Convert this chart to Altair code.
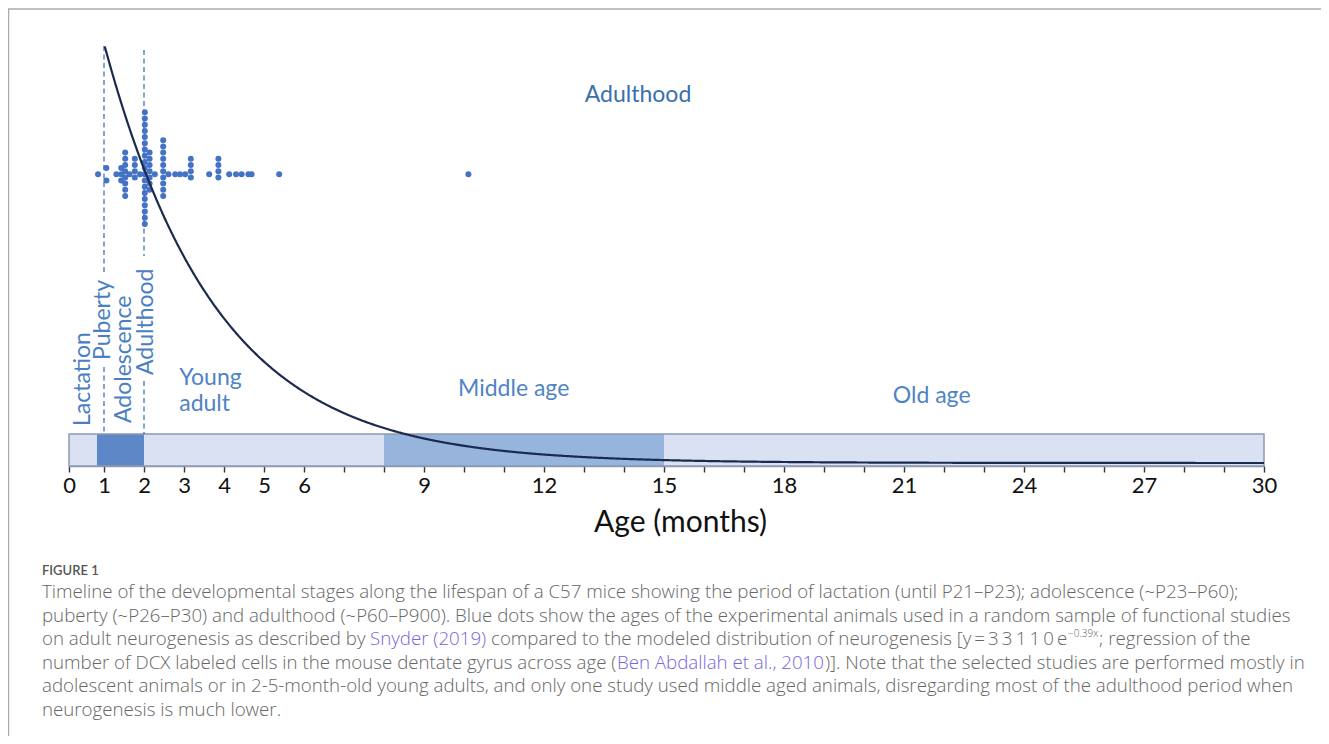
import altair as alt
import pandas as pd

# ---------------- data ----------------
tick_months = list(range(0, 31))
labelled_months = [0, 1, 2, 3, 4, 5, 6, 9, 12, 15, 18, 21, 24, 27, 30]

# timeline bar (months)
seg_start = [0.8, 8]
seg_end = [2, 15]
seg_color = ["#5e87c7", "#97b4dd"]
bar_start, bar_end = 0, 30

# neurogenesis model curve, as drawn
model_A = 33110
model_k = 0.355
curve_start, curve_end = 1.02, 30

# stage boundaries (dashed lines, months)
boundary_month = [1, 1, 2, 2]

# studies: dot columns -> age (months), lowest and highest stack level
col_age = [0.83, 1.06, 1.06, 1.31, 1.43, 1.53, 1.64, 1.77, 1.90, 2.02, 2.14, 2.27,
           2.48, 2.61, 2.78, 2.90, 3.03, 3.17, 3.63, 3.86, 4.13, 4.30, 4.44, 4.61,
           4.69, 5.38, 10.11]
col_lo = [0, 1, -1, 0, -1, -3.5, 0, -0.5, 0, -8, -2.5, 0,
          -3.5, 0, 0, 0, 0, -0.5, 0, -0.5, 0, 0, 0, 0,
          0, 0, 0]
col_hi = [0, 1, -1, 0, 1, 3.5, 0, 2.5, 0, 10, 3.5, 0,
          5.5, 0, 0, 0, 0, 2.5, 0, 2.5, 0, 0, 0, 0,
          0, 0, 0]

# stage labels
h_text = ["Adulthood", "Young", "adult", "Middle age", "Old age"]
h_month = [13.02, 2.88, 2.88, 9.85, 20.72]
v_text = ["Lactation", "Puberty", "Adolescence", "Adulthood"]
v_month = [0.6, 1.15, 1.675, 2.225]

# caption
fig_label = "FIGURE 1"
cap_lines = [
    "Timeline of the developmental stages along the lifespan of a C57 mice showing the period of lactation (until P21\u2013P23); adolescence (~P23\u2013P60);",
    "puberty (~P26\u2013P30) and adulthood (~P60\u2013P900). Blue dots show the ages of the experimental animals used in a random sample of functional studies",
    None,
    None,
    "adolescent animals or in 2-5-month-old young adults, and only one study used middle aged animals, disregarding most of the adulthood period when",
    "neurogenesis is much lower.",
]
line3_parts = ["on adult neurogenesis as described by", "Snyder (2019)",
               "compared to the modeled distribution of neurogenesis [y\u2009=\u20093\u20093\u20091\u20091\u20090\u2009e",
               "\u22120.39x", "; regression of the"]
line4_parts = ["number of DCX labeled cells in the mouse dentate gyrus across age (",
               "Ben Abdallah et al., 2010",
               ")]. Note that the selected studies are performed mostly in"]

# ---------------- layout (pixels) ----------------
W, H = 1195, 421
PAD = {"left": 61, "top": 37, "right": 57, "bottom": 270}
OX, OY = 69, 45  # page position of plot origin
BAR_TOP, BAR_BOT = 434 - OY, 466 - OY
DOT_CENTER, DOT_STEP = 174.3 - OY, 6.2

FONT = "Lato"
CAP_FONT = "Open Sans"
CAP_SIZE = 18.7
BLUE_TXT = "#4f84c4"
GRAY = "#666666"
LINK = "#7466dc"

xscale = alt.Scale(domain=[0, 1, 30], range=[0, 35, W], nice=False, zero=False)

label_expr = "indexof(%s, datum.value) >= 0 ? datum.label : ''" % str(labelled_months)

bg = alt.Chart(pd.DataFrame({"s": [bar_start], "e": [bar_end]})).mark_rect(
    fill="#dae1f2").encode(
    x=alt.X("s:Q", scale=xscale, axis=alt.Axis(
        values=tick_months, labelExpr=label_expr, title="Age (months)",
        grid=False, domain=True, domainColor="#8d98b3", domainWidth=1.5,
        ticks=True, tickColor="#333333", tickSize=6, tickWidth=1.4,
        labelFont=FONT, labelFontSize=22, labelColor="#111111", labelPadding=3,
        labelFlush=False, labelOverlap=False, labelAngle=0,
        titleFont=FONT, titleFontSize=30, titleFontWeight="normal", titleColor="#111111",
        titleX=611, titleY=65, titleAlign="center", titleBaseline="alphabetic")),
    x2="e:Q", y=alt.value(BAR_TOP), y2=alt.value(BAR_BOT))

# frame
frame_h = alt.Chart(alt.Data(values=[{}])).mark_rule(color="#ababab", strokeWidth=1.5).encode(
    x=alt.value(8 - OX), x2=alt.value(1329 - OX), y=alt.value(9 - OY))
frame_v = alt.Chart(alt.Data(values=[{}])).mark_rule(color="#ababab", strokeWidth=1.5).encode(
    x=alt.value(8.5 - OX), y=alt.value(9 - OY), y2=alt.value(744 - OY))

segs = alt.Chart(pd.DataFrame({"s": seg_start, "e": seg_end, "c": seg_color})).mark_rect().encode(
    x=alt.X("s:Q", scale=xscale, axis=None), x2="e:Q",
    y=alt.value(BAR_TOP), y2=alt.value(BAR_BOT),
    fill=alt.Fill("c:N", scale=None))

outline = alt.Chart(pd.DataFrame({"s": [bar_start], "e": [bar_end]})).mark_rect(
    fillOpacity=0, stroke="#8d98b3", strokeWidth=1.5).encode(
    x=alt.X("s:Q", scale=xscale, axis=None), x2="e:Q",
    y=alt.value(BAR_TOP), y2=alt.value(BAR_BOT))

dash_df = pd.DataFrame({"m": boundary_month,
                        "y1": [46 - OY, 367 - OY, 50 - OY, 381 - OY],
                        "y2": [272 - OY, BAR_TOP, 256 - OY, BAR_TOP]})
dashes = alt.Chart(dash_df).mark_rule(color="#4472c4", strokeWidth=1.3, strokeDash=[5, 3.5]).encode(
    x=alt.X("m:Q", scale=xscale, axis=None),
    y=alt.Y("y1:Q", scale=None), y2="y2:Q")

rows = []
for a, lo, hi in zip(col_age, col_lo, col_hi):
    lv = lo
    while lv <= hi + 1e-9:
        rows.append({"age": a, "level": lv})
        lv += 1
dots = alt.Chart(pd.DataFrame(rows)).transform_calculate(
    py=f"{DOT_CENTER} - datum.level * {DOT_STEP}").mark_circle(
    color="#4472c4", opacity=1, size=36).encode(
    x=alt.X("age:Q", scale=xscale, axis=None),
    y=alt.Y("py:Q", scale=None))

curve = alt.Chart(alt.sequence(curve_start, curve_end + 0.001, 0.02, as_="age")).transform_calculate(
    n=f"{model_A} * exp(-{model_k} * datum.age)").mark_line(
    color="#1b2a4e", strokeWidth=2.2).encode(
    x=alt.X("age:Q", scale=xscale, axis=None),
    y=alt.Y("n:Q", scale=alt.Scale(domain=[-166, 23133], nice=False, zero=False), axis=None))

h_df = pd.DataFrame({"t": h_text, "m": h_month,
                     "py": [101.7 - OY, 385 - OY, 410.7 - OY, 396 - OY, 403 - OY],
                     "c": ["#3b70ae", BLUE_TXT, BLUE_TXT, BLUE_TXT, BLUE_TXT]})
h_labels = alt.Chart(h_df).mark_text(font=FONT, fontSize=23, align="left", baseline="alphabetic").encode(
    x=alt.X("m:Q", scale=xscale, axis=None), y=alt.Y("py:Q", scale=None),
    text="t:N", color=alt.Color("c:N", scale=None))

v_df = pd.DataFrame({"t": v_text, "m": v_month,
                     "py": [426 - OY, 360 - OY, 423 - OY, 375 - OY]})
v_labels = alt.Chart(v_df).mark_text(font=FONT, fontSize=23, align="left", baseline="alphabetic",
                                     angle=270, color="#4a80c2").encode(
    x=alt.X("m:Q", scale=xscale, axis=None), y=alt.Y("py:Q", scale=None), text="t:N")

# caption segments: text, page x, page baseline y, colour, size
cap_rows = [{"t": fig_label, "x": 42, "y": 575, "c": "#555555", "s": 13}]
line_base = [598, 621.5, 645, 668.5, 692, 715.5]
for i, ln in enumerate(cap_lines):
    if ln:
        cap_rows.append({"t": ln, "x": 42, "y": line_base[i], "c": GRAY, "s": CAP_SIZE})
l3x = [42, 370, 491, 1068, 1099]
l3c = [GRAY, LINK, GRAY, GRAY, GRAY]
for t, x, c in zip(line3_parts, l3x, l3c):
    sup = t.startswith("\u2212")
    cap_rows.append({"t": t, "x": x, "y": line_base[2] - (8 if sup else 0), "c": c,
                     "s": 10 if sup else CAP_SIZE})
l4x = [42, 617, 825]
l4c = [GRAY, LINK, GRAY]
for t, x, c in zip(line4_parts, l4x, l4c):
    cap_rows.append({"t": t, "x": x, "y": line_base[3], "c": c, "s": CAP_SIZE})
cap_df = pd.DataFrame(cap_rows)
cap_df["px"] = cap_df["x"] - OX
cap_df["py"] = cap_df["y"] - OY
fig_df = cap_df.iloc[:1]
body_df = cap_df.iloc[1:]

fig_text = alt.Chart(fig_df).mark_text(font=FONT, fontWeight=600, align="left", baseline="alphabetic").encode(
    x=alt.X("px:Q", scale=None), y=alt.Y("py:Q", scale=None), text="t:N",
    color=alt.Color("c:N", scale=None), size=alt.Size("s:Q", scale=None))
body_text = alt.Chart(body_df).mark_text(font=CAP_FONT, fontWeight=300, align="left", baseline="alphabetic").encode(
    x=alt.X("px:Q", scale=None), y=alt.Y("py:Q", scale=None), text="t:N",
    color=alt.Color("c:N", scale=None), size=alt.Size("s:Q", scale=None))

chart = alt.layer(
    bg, frame_h, frame_v, segs, outline, dashes, dots, curve, h_labels, v_labels, fig_text, body_text
).resolve_scale(x="independent", y="independent").properties(
    width=W, height=H, padding=PAD, autosize=alt.AutoSizeParams(type="none"),
    background="white"
).configure_view(strokeWidth=0)

chart.save("out.html", embed_options={"renderer": "svg", "actions": False})
